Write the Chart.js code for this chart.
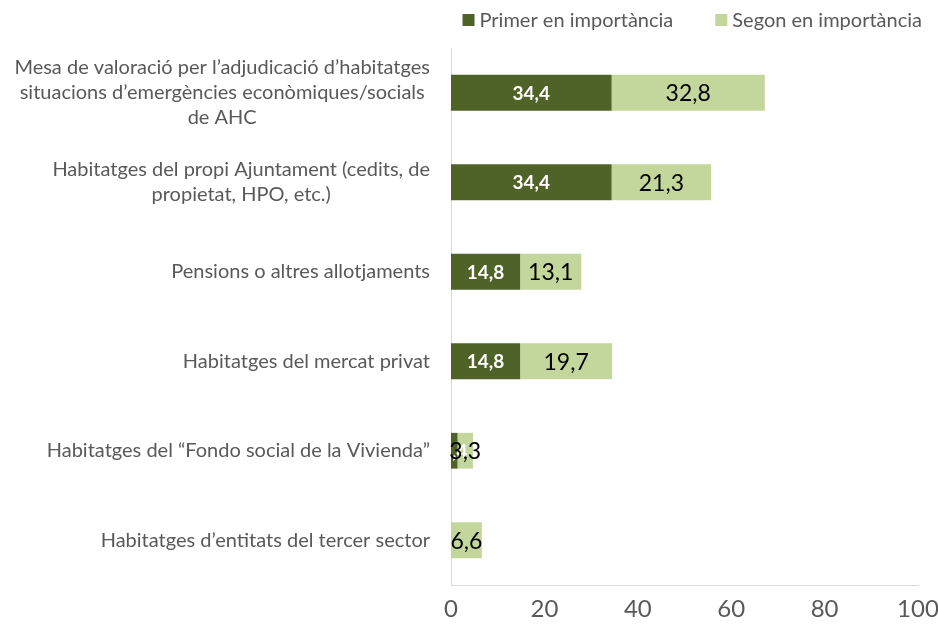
<!DOCTYPE html>
<html>
<head>
<meta charset="utf-8">
<script src="https://cdn.jsdelivr.net/npm/chart.js@4/dist/chart.umd.min.js"></script>
<style>
  html, body { margin: 0; padding: 0; background: #fff; }
  #wrap { width: 938px; height: 625px; position: relative; }
</style>
</head>
<body>
<div id="wrap"><canvas id="chart"></canvas></div>
<script>
let categories = [
  ["Mesa de valoració per l\u2019adjudicació d\u2019habitatges", "situacions d\u2019emergències econòmiques/socials", "de AHC"],
  ["Habitatges del propi Ajuntament (cedits, de", "propietat, HPO, etc.)"],
  ["Pensions o altres allotjaments"],
  ["Habitatges del mercat privat"],
  ["Habitatges del \u201cFondo social de la Vivienda\u201d"],
  ["Habitatges d\u2019entitats del tercer sector"]
];
let primer = [34.4, 34.4, 14.8, 14.8, 1.4, 0];
let segon = [32.8, 21.3, 13.1, 19.7, 3.3, 6.6];
let xTicks = [0, 20, 40, 60, 80, 100];

let fontFamily = "Lato, 'Open Sans', sans-serif";
let grey = "#595959";

function fmt(v) {
  return v.toFixed(1).replace(".", ",");
}

// category labels: each block centred on itself, right edge near the axis
let categoryLabels = {
  id: "categoryLabels",
  afterDraw(chart) {
    let c = chart.ctx;
    let y = chart.scales.y;
    let right = chart.chartArea.left - 21;
    let lineH = 25;
    c.save();
    c.font = "20px " + fontFamily;
    c.fillStyle = grey;
    c.textBaseline = "middle";
    c.textAlign = "center";
    categories.forEach(function (lines, i) {
      let w = Math.max.apply(null, lines.map(function (l) { return c.measureText(l).width; }));
      let cx = right - w / 2;
      let cy = y.getPixelForValue(i) - (lines.length - 1) * lineH / 2;
      lines.forEach(function (l, j) {
        c.fillText(l, cx, cy + j * lineH);
      });
    });
    c.restore();
  }
};

// legend row at the top right
let topLegend = {
  id: "topLegend",
  afterDraw(chart) {
    let c = chart.ctx;
    let sets = chart.data.datasets;
    let box = 12, gapText = 5, gapItem = 42, right = 922, cy = 20;
    c.save();
    c.font = "20px " + fontFamily;
    c.textBaseline = "middle";
    c.textAlign = "left";
    let widths = sets.map(function (ds) { return box + gapText + c.measureText(ds.label).width; });
    let total = widths.reduce(function (a, b) { return a + b; }, 0) + gapItem * (sets.length - 1);
    let x = right - total;
    sets.forEach(function (ds, i) {
      c.fillStyle = ds.backgroundColor;
      c.fillRect(x, cy - box / 2, box, box);
      c.fillStyle = grey;
      c.fillText(ds.label, x + box + gapText, cy + 1);
      x += widths[i] + gapItem;
    });
    c.restore();
  }
};

// value labels inside the bars
let valueLabels = {
  id: "valueLabels",
  afterDatasetsDraw(chart) {
    let c = chart.ctx;
    c.save();
    c.textAlign = "center";
    c.textBaseline = "middle";
    chart.data.datasets.forEach(function (ds, di) {
      let meta = chart.getDatasetMeta(di);
      meta.data.forEach(function (bar, i) {
        let v = ds.data[i];
        if (!v) return;
        let cx = (bar.x + bar.base) / 2;
        if (di === 0) {
          c.font = "bold 19px " + fontFamily;
          c.fillStyle = "#ffffff";
        } else {
          c.font = "23px " + fontFamily;
          c.fillStyle = "#000000";
        }
        c.fillText(fmt(v), cx, bar.y + 1);
      });
    });
    c.restore();
  }
};

new Chart(document.getElementById("chart"), {
  type: "bar",
  data: {
    labels: categories.map(function (l) { return l.join(" "); }),
    datasets: [
      {
        label: "Primer en importància",
        data: primer,
        backgroundColor: "#4f6228",
        barPercentage: 0.4,
        categoryPercentage: 1
      },
      {
        label: "Segon en importància",
        data: segon,
        backgroundColor: "#c3d69b",
        barPercentage: 0.4,
        categoryPercentage: 1
      }
    ]
  },
  options: {
    indexAxis: "y",
    responsive: true,
    maintainAspectRatio: false,
    animation: false,
    layout: {
      padding: { left: 451, right: 0, top: 48, bottom: 0 }
    },
    scales: {
      x: {
        stacked: true,
        min: 0,
        max: 100,
        afterBuildTicks: function (axis) {
          axis.ticks = xTicks.map(function (v) { return { value: v }; });
        },
        afterFit: function (axis) {
          axis.height = 40;
          axis.paddingRight = 20;
        },
        grid: { display: false, drawTicks: false },
        border: { display: true, color: "#d9d9d9", width: 1 },
        ticks: {
          color: grey,
          font: { family: fontFamily, size: 24 },
          padding: 10
        }
      },
      y: {
        stacked: true,
        grid: { display: false, drawTicks: false },
        border: { display: true, color: "#d9d9d9", width: 1 },
        ticks: { display: false },
        afterFit: function (axis) { axis.width = 0; }
      }
    },
    plugins: {
      legend: { display: false },
      tooltip: { enabled: false }
    }
  },
  plugins: [categoryLabels, valueLabels, topLegend]
});
</script>
</body>
</html>
